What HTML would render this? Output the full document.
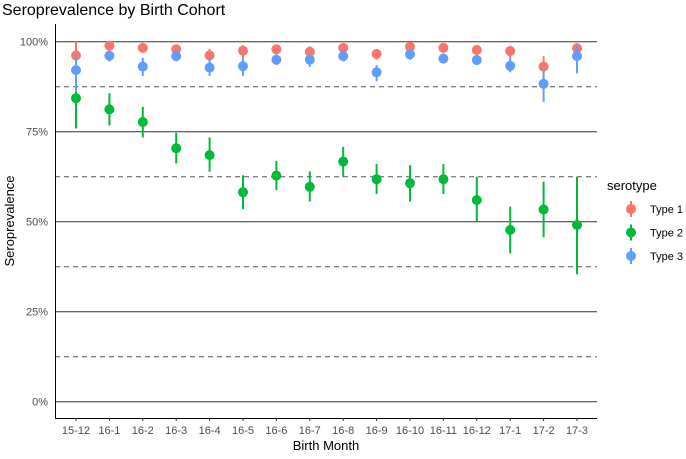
<!DOCTYPE html>
<html><head><meta charset="utf-8"><style>
body{margin:0;background:#fff;font-family:"Liberation Sans",sans-serif}
svg text{font-family:"Liberation Sans",sans-serif}
</style></head><body>
<svg id="c" width="686" height="454" xmlns="http://www.w3.org/2000/svg">
<text x="2" y="15" font-size="16" fill="#000">Seroprevalence by Birth Cohort</text>
<g id="grid"></g><g id="marks"></g><g id="axes"></g>
<text x="326" y="450" font-size="13" text-anchor="middle">Birth Month</text>
<text transform="translate(14,221) rotate(-90)" font-size="13" text-anchor="middle">Seroprevalence</text>
<g id="legend"></g>
</svg>
<script>
const categories=["15-12","16-1","16-2","16-3","16-4","16-5","16-6","16-7","16-8","16-9","16-10","16-11","16-12","17-1","17-2","17-3"];
const type1=[96.2,98.9,98.3,97.9,96.2,97.5,97.9,97.2,98.3,96.6,98.6,98.3,97.7,97.4,93.1,98.2];
const type1Lo=[93,97.5,97,96.5,94.5,95.5,96.5,95.5,97,95,97.5,97,96,95.5,89.5,96.5];
const type1Hi=[100,99.8,99.5,99,98,99,99,98.7,99.5,98,99.5,99.5,99,98.7,96,99.5];
const type2=[84.3,81.2,77.7,70.4,68.5,58.2,62.8,59.7,66.7,61.8,60.7,61.8,56,47.7,53.4,49.1];
const type2Lo=[75.9,76.7,73.4,66.2,63.9,53.5,58.8,55.6,62.5,57.7,55.6,57.7,50,41.2,45.7,35.4];
const type2Hi=[92,85.7,81.9,74.7,73.4,62.9,66.9,64,70.8,66,65.7,66,62.5,54.2,61.1,62.5];
const type3=[92.1,96.1,93.1,96,92.8,93.2,95,95,96,91.5,96.5,95.3,94.9,93.3,88.3,96];
const type3Lo=[86,94.5,90.5,94.5,90.5,90.5,93.5,93,94.5,89,95,94,93.5,91.5,83.3,91.2];
const type3Hi=[96,97.5,95.5,97.5,95,95.5,96.5,96.5,97.5,93.5,97.8,96.8,96.3,95.5,92,99];
const yTicks=[0,25,50,75,100];
const yDashed=[12.5,37.5,62.5,87.5];
const seriesNames=["Type 1","Type 2","Type 3"];
const colors=["#F8766D","#00BA38","#619CFF"];
const NS="http://www.w3.org/2000/svg";
const x=i=>76+i*33.4, y=v=>401.7-v*3.6;
function mk(p,tag,a){const e=document.createElementNS(NS,tag);for(const k in a)e.setAttribute(k,a[k]);document.getElementById(p).appendChild(e);return e;}
yTicks.forEach(t=>{const l=mk('grid','line',{x1:55,x2:597,y1:y(t),y2:y(t),stroke:'#333','stroke-width':1});


const tx=mk('axes','text',{x:48,y:y(t)+4,'font-size':11,fill:'#4d4d4d','text-anchor':'end'});tx.textContent=t+'%';

});
yDashed.forEach(t=>{const l=mk('grid','line',{x1:55,x2:597,y1:y(t),y2:y(t),stroke:'#555','stroke-width':1,'stroke-dasharray':'5,4'});

});
const ax=mk('axes','path',{d:'M55.5 24 V418.5 H597',fill:'none',stroke:'#000','stroke-width':1});


categories.forEach((c,i)=>{mk('axes','line',{x1:x(i),x2:x(i),y1:418,y2:421,stroke:'#333'});
const t=mk('axes','text',{x:x(i),y:434,'font-size':11,fill:'#4d4d4d','text-anchor':'middle'});t.textContent=c;

});
const S=[[type1,type1Lo,type1Hi],[type2,type2Lo,type2Hi],[type3,type3Lo,type3Hi]];
S.forEach((s,k)=>{s[0].forEach((v,i)=>{
const l=mk('marks','line',{x1:x(i),x2:x(i),y1:y(s[1][i]),y2:y(s[2][i]),stroke:colors[k],'stroke-width':2});


const p=mk('marks','circle',{cx:x(i),cy:y(v),r:5,fill:colors[k]});

});});
const lt=mk('legend','text',{x:607,y:190,'font-size':13});lt.textContent='serotype';


seriesNames.forEach((n,k)=>{const cy=209+k*23.5;
mk('legend','line',{x1:631,x2:631,y1:cy-8,y2:cy+8,stroke:colors[k],'stroke-width':2});
const c=mk('legend','circle',{cx:631,cy:cy,r:5,fill:colors[k]});


const t=mk('legend','text',{x:650,y:cy+4,'font-size':11});t.textContent=n;

});
</script>
</body></html>
